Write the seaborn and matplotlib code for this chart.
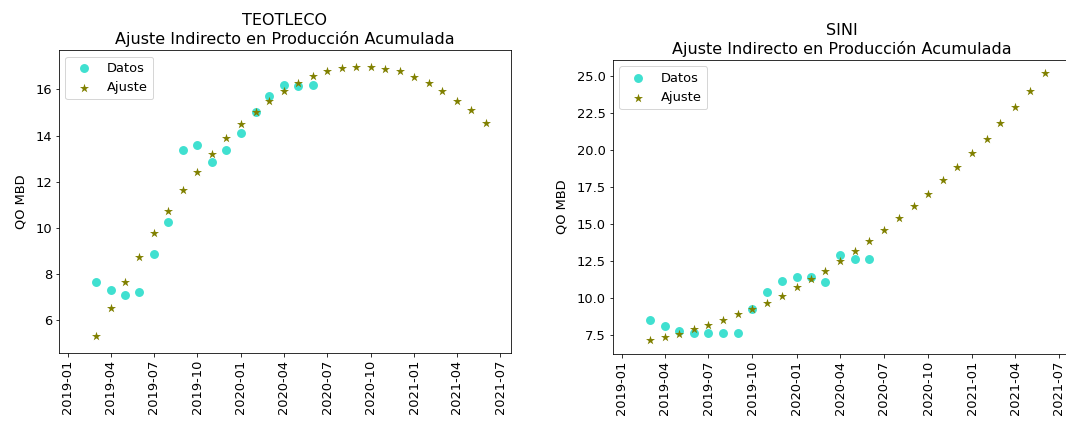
import pandas as pd
import seaborn as sns
import matplotlib.pyplot as plt
import matplotlib.dates as mdates

# monthly dates (first day of month)
fechas_datos = pd.date_range("2019-03-01", periods=16, freq="MS")
fechas_ajuste = pd.date_range("2019-03-01", periods=28, freq="MS")

# TEOTLECO
datos_teo = [7.65, 7.29, 7.09, 7.23, 8.86, 10.25, 13.39, 13.58, 12.84, 13.39,
             14.12, 15.03, 15.71, 16.19, 16.16, 16.19]
ajuste_teo = [5.29, 6.51, 7.67, 8.74, 9.77, 10.74, 11.65, 12.43, 13.22, 13.88,
              14.49, 15.04, 15.51, 15.94, 16.30, 16.57, 16.78, 16.91, 16.97, 16.97,
              16.90, 16.78, 16.55, 16.30, 15.94, 15.52, 15.09, 14.54]

# SINI
datos_sini = [8.51, 8.13, 7.79, 7.65, 7.65, 7.65, 7.65, 9.25, 10.42, 11.16,
              11.43, 11.43, 11.05, 12.90, 12.60, 12.63]
ajuste_sini = [7.14, 7.34, 7.59, 7.90, 8.15, 8.53, 8.89, 9.25, 9.68, 10.15,
               10.71, 11.28, 11.84, 12.47, 13.19, 13.84, 14.56, 15.39, 16.23, 17.04,
               17.96, 18.86, 19.78, 20.77, 21.81, 22.89, 23.99, 25.18]

pozos = ["TEOTLECO", "SINI"]

plt.rcParams["font.size"] = 13
plt.rcParams["axes.titlesize"] = 16

fig = plt.figure(figsize=(1066 / 72, 427 / 72), dpi=72)
ax1 = fig.add_axes([0.0553, 0.1733, 0.424, 0.7096])
ax2 = fig.add_axes([0.575, 0.171, 0.4287, 0.6885])


def graficar(ax, nombre, datos, ajuste, xlim, ylim):
    sns.scatterplot(x=fechas_datos, y=datos, ax=ax, color="turquoise", marker="o",
                    s=80, linewidth=0, label="Datos")
    sns.scatterplot(x=fechas_ajuste, y=ajuste, ax=ax, color="olive", marker="*",
                    s=90, linewidth=0, label="Ajuste")
    ax.set_title(nombre + "\nAjuste Indirecto en Producción Acumulada")
    ax.set_ylabel("QO MBD", labelpad=8)
    ax.set_xlabel("")
    ax.xaxis.set_major_locator(mdates.MonthLocator(bymonth=[1, 4, 7, 10]))
    ax.xaxis.set_major_formatter(mdates.DateFormatter("%Y-%m"))
    ax.tick_params(axis="x", rotation=90)
    ax.set_xlim(pd.Timestamp(xlim[0]), pd.Timestamp(xlim[1]))
    ax.set_ylim(*ylim)
    ax.legend(loc="upper left")


graficar(ax1, pozos[0], datos_teo, ajuste_teo, ("2018-12-13", "2021-07-24"), (4.57, 17.71))
graficar(ax2, pozos[1], datos_sini, ajuste_sini, ("2018-12-14", "2021-07-24"), (6.21, 26.08))

fig.savefig("out.png", dpi=72)
